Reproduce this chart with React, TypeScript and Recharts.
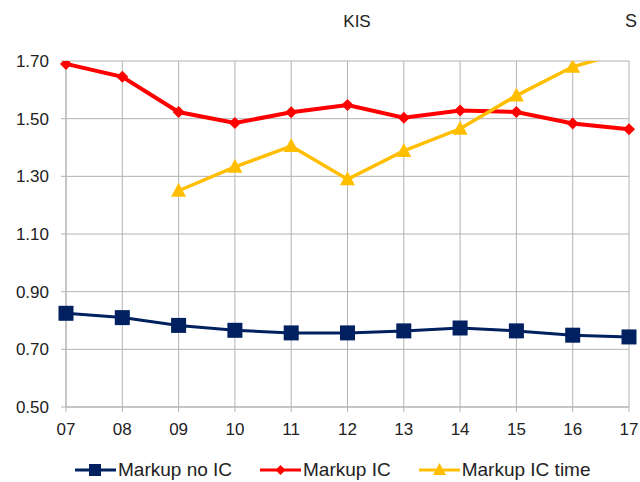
import { CartesianGrid, Legend, Line, LineChart, XAxis, YAxis } from "recharts";

const years = ["07", "08", "09", "10", "11", "12", "13", "14", "15", "16", "17"];
const markupNoIC = [0.825, 0.81, 0.783, 0.766, 0.757, 0.757, 0.764, 0.774, 0.764, 0.749, 0.743];
const markupIC = [1.69, 1.645, 1.523, 1.485, 1.522, 1.547, 1.503, 1.528, 1.523, 1.483, 1.463];
const markupICTime = [null, null, 1.25, 1.333, 1.405, 1.29, 1.388, 1.465, 1.58, 1.68, 1.735];
const yTicks = [0.5, 0.7, 0.9, 1.1, 1.3, 1.5, 1.7];

const NAVY = "#002060";
const RED = "#ff0000";
const GOLD = "#ffbf00";
const FONT = "'Liberation Sans', Arial, sans-serif";

const data = years.map((y, i) => ({
    year: y,
    noIC: markupNoIC[i],
    ic: markupIC[i],
    icTime: markupICTime[i],
}));

function SquareDot(props: any) {
    const { cx, cy } = props;
    if (cx == null || cy == null) return null;
    return <rect x={cx - 7.5} y={cy - 7.5} width={15} height={15} fill={NAVY} />;
}

function DiamondDot(props: any) {
    const { cx, cy } = props;
    if (cx == null || cy == null) return null;
    return <polygon points={`${cx},${cy - 6} ${cx + 6},${cy} ${cx},${cy + 6} ${cx - 6},${cy}`} fill={RED} />;
}

function TriangleDot(props: any) {
    const { cx, cy } = props;
    if (cx == null || cy == null) return null;
    return <polygon points={`${cx},${cy - 8} ${cx + 7.5},${cy + 6} ${cx - 7.5},${cy + 6}`} fill={GOLD} />;
}

const legendItems = [
    { label: "Markup no IC", color: NAVY, shape: "square" },
    { label: "Markup IC", color: RED, shape: "diamond" },
    { label: "Markup IC time", color: GOLD, shape: "triangle" },
];

function LegendContent() {
    return (
        <div style={{ display: "flex", justifyContent: "flex-start", gap: 28, paddingLeft: 75, paddingTop: 4, fontFamily: FONT, fontSize: 19, color: "#222" }}>
            {legendItems.map((it) => (
                <div key={it.label} style={{ display: "flex", alignItems: "center" }}>
                    <svg width={41} height={20}>
                        <line x1={0} y1={10} x2={41} y2={10} stroke={it.color} strokeWidth={3} />
                        {it.shape === "square" && <rect x={14} y={4} width={12} height={12} fill={it.color} />}
                        {it.shape === "diamond" && <polygon points="20.5,5 25.5,10 20.5,15 15.5,10" fill={it.color} />}
                        {it.shape === "triangle" && <polygon points="20.5,3 27,15 14,15" fill={it.color} />}
                    </svg>
                    <span style={{ marginLeft: 2, lineHeight: "20px" }}>{it.label}</span>
                </div>
            ))}
        </div>
    );
}

export default function App() {
    return (
        <div style={{ position: "absolute", left: 0, top: 0, width: 640, height: 482, background: "#fff" }}>
            <div style={{ position: "absolute", left: 357, top: 12, transform: "translateX(-50%)", fontFamily: FONT, fontSize: 17, color: "#222" }}>
                KIS
            </div>
            <div style={{ position: "absolute", left: 625, top: 11, fontFamily: FONT, fontSize: 18, color: "#222" }}>
                S
            </div>
            <LineChart width={640} height={482} data={data} margin={{ top: 61, right: 11, left: 0, bottom: 2 }}>
                <CartesianGrid stroke="#b3b3b3" strokeWidth={1} />
                <XAxis
                    dataKey="year"
                    height={49}
                    stroke="#b3b3b3"
                    tickSize={5}
                    tickMargin={11}
                    tick={{ fill: "#222", fontSize: 17, fontFamily: FONT }}
                    interval={0}
                />
                <YAxis
                    width={66}
                    domain={[0.5, 1.7]}
                    ticks={yTicks}
                    allowDataOverflow
                    stroke="#b3b3b3"
                    tickSize={5}
                    tickMargin={12}
                    tickFormatter={(v: number) => v.toFixed(2)}
                    tick={{ fill: "#222", fontSize: 17, fontFamily: FONT }}
                />
                <Legend verticalAlign="bottom" height={24} content={<LegendContent />} />
                <Line dataKey="noIC" stroke={NAVY} strokeWidth={3} dot={<SquareDot />} isAnimationActive={false} />
                <Line dataKey="ic" stroke={RED} strokeWidth={4} dot={<DiamondDot />} isAnimationActive={false} />
                <Line dataKey="icTime" stroke={GOLD} strokeWidth={3.5} dot={<TriangleDot />} isAnimationActive={false} />
            </LineChart>
        </div>
    );
}
